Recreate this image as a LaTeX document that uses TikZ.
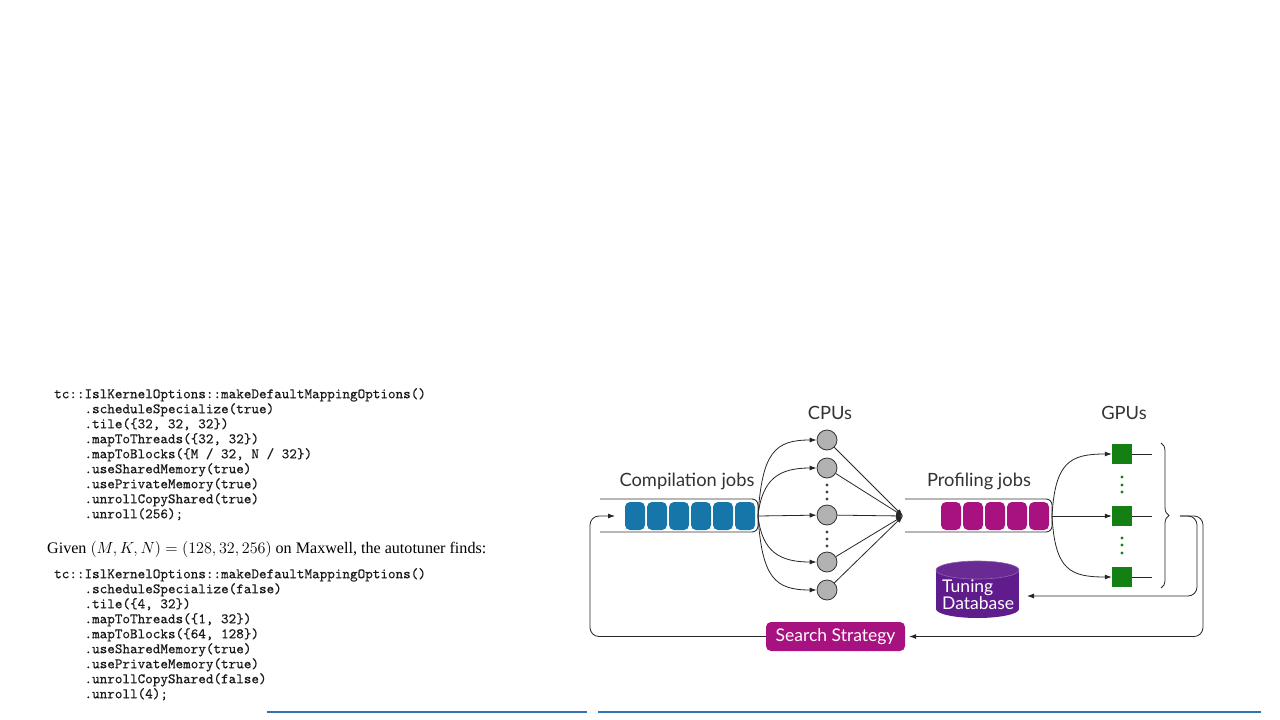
\RequirePackage{fix-cm}
\documentclass[tikz,border=0pt]{standalone}
\usepackage{fontspec}
\setmainfont{Liberation Serif}
\setmonofont{lmmono10-regular}[Extension=.otf, FakeBold=0.4]
\newfontfamily\dfont{Lato}
\usetikzlibrary{arrows.meta,decorations.pathreplacing}
\definecolor{jobblue}{RGB}{22,118,170}
\definecolor{jobpink}{RGB}{168,18,128}
\definecolor{dbpurple}{RGB}{96,28,140}
\definecolor{gpugreen}{RGB}{20,128,20}
\definecolor{cpugray}{RGB}{178,178,178}
\definecolor{rulecol}{RGB}{46,117,182}
\tikzstyle{pipe}=[draw=black!80, line width=0.9pt, rounded corners=6pt]
\tikzstyle{cjob}=[rectangle, rounded corners=5pt, fill=jobblue, minimum width=20pt, minimum height=28pt, inner sep=0pt]
\tikzstyle{pjob}=[rectangle, rounded corners=5pt, fill=jobpink, minimum width=20pt, minimum height=28pt, inner sep=0pt]
\tikzstyle{cpu}=[circle, draw=black!80, fill=cpugray, minimum size=20pt, inner sep=0pt, line width=0.8pt]
\tikzstyle{gpu}=[rectangle, fill=gpugreen, minimum size=20pt, inner sep=0pt]
\tikzstyle{lbl}=[inner sep=0pt, text=black!80, font=\dfont\fontsize{18.3}{20}\selectfont]
\tikzstyle{boxlbl}=[inner sep=0pt, text=white, font=\dfont\fontsize{17.5}{17}\selectfont]
\tikzstyle{edge}=[-{Latex[length=7pt,width=5pt]}, draw=black!85, line width=0.8pt]
\tikzstyle{line}=[draw=black!85, line width=0.8pt]
\tikzstyle{code}=[anchor=north west, inner sep=0pt, align=left, text=black!90, font=\ttfamily\fontsize{14.45}{15}\selectfont]

\begin{document}
\begin{tikzpicture}[x=1pt, y=-1pt]
				\useasboundingbox (0,0) rectangle (1280,720);
				
				%The code
				\draw (54,388) node[code] (opt1) {tc::IslKernelOptions::makeDefaultMappingOptions()\\
				~~~~.scheduleSpecialize(true)\\
				~~~~.tile(\{32, 32, 32\})\\
				~~~~.mapToThreads(\{32, 32\})\\
				~~~~.mapToBlocks(\{M / 32, N / 32\})\\
				~~~~.useSharedMemory(true)\\
				~~~~.usePrivateMemory(true)\\
				~~~~.unrollCopyShared(true)\\
				~~~~.unroll(256);};
				\draw (47,549) node[anchor=west, inner sep=0pt, font=\fontsize{16.1}{18}\selectfont] (given) {Given $(M,K,N)=(128,32,256)$ on Maxwell, the autotuner finds:};
				\draw (54,568) node[code] (opt2) {tc::IslKernelOptions::makeDefaultMappingOptions()\\
				~~~~.scheduleSpecialize(false)\\
				~~~~.tile(\{4, 32\})\\
				~~~~.mapToThreads(\{1, 32\})\\
				~~~~.mapToBlocks(\{64, 128\})\\
				~~~~.useSharedMemory(true)\\
				~~~~.usePrivateMemory(true)\\
				~~~~.unrollCopyShared(false)\\
				~~~~.unroll(4);};
				
				%The queues
				\draw[pipe] (600,499) -- (758,499) -- (758,532) -- (600,532);
				\foreach \i in {0,...,5}
					\draw (635+22*\i,516) node[cjob] (cj\i) {};
				\draw[pipe] (905,499) -- (1052,499) -- (1052,532) -- (905,532);
				\foreach \i in {0,...,4}
					\draw (951+22*\i,516) node[pjob] (pj\i) {};
				\coordinate (cq) at (758,516);
				\coordinate (pq) at (1052,516);
				\coordinate (cin) at (615,516);
				\coordinate (pin) at (903,516);
				
				%The labels
				\draw (830,413) node[lbl] (cpus) {CPUs};
				\draw (1124,413) node[lbl] (gpus) {GPUs};
				\draw (687,481) node[lbl] (cjobs) {Compilation jobs};
				\draw (979,481) node[lbl] (pjobs) {Profiling jobs};
				
				%The CPUs
				\draw (827,440) node[cpu] (c1) {};
				\draw (827,468) node[cpu] (c2) {};
				\draw (827,515) node[cpu] (c3) {};
				\draw (827,562) node[cpu] (c4) {};
				\draw (827,590) node[cpu] (c5) {};
				\foreach \y in {485,492,499,532,539,546}
					\fill[black!75] (827,\y) circle (1.7pt);
				
				%The GPUs
				\draw (1122,454) node[gpu] (g1) {};
				\draw (1122,516) node[gpu] (g2) {};
				\draw (1122,577) node[gpu] (g3) {};
				\foreach \y in {477,485,492,538,545,553}
					\fill[gpugreen] (1122,\y) circle (1.7pt);
				
				%The database
				\coordinate (db) at (977.5,590);
				\fill[dbpurple] (936,570) rectangle (1019,609);
				\fill[dbpurple] (977.5,609) ellipse (41.5 and 9);
				\filldraw[fill=dbpurple!94!white, draw=dbpurple!70!white, line width=0.6pt] (977.5,570) ellipse (41.5 and 9);
				\draw (942,595) node[boxlbl, anchor=west, align=left] (dbtext) {Tuning\\Database};
				
				%The strategy
				\draw (835.5,636.5) node[rectangle, rounded corners=5pt, fill=jobpink, minimum width=139pt, minimum height=29pt, boxlbl] (ss) {Search Strategy};
				
				%Compilation jobs to CPUs
				\draw[edge] (cq) .. controls (762,452) and (775,440) .. (c1);
				\draw[edge] (cq) .. controls (762,478) and (780,468) .. (c2);
				\draw[edge] (cq) -- (c3);
				\draw[edge] (cq) .. controls (762,552) and (780,562) .. (c4);
				\draw[edge] (cq) .. controls (762,578) and (775,590) .. (c5);
				
				%CPUs to profiling jobs
				\foreach \n in {c1,c2,c3,c4,c5}
					\draw[edge] (\n) -- (pin);
				
				%Profiling jobs to GPUs
				\draw[edge] (pq) .. controls (1055,462) and (1070,454) .. (g1);
				\draw[edge] (pq) -- (g2);
				\draw[edge] (pq) .. controls (1055,570) and (1070,577) .. (g3);
				\foreach \n in {g1,g2,g3}
					\draw[line] (\n.east) -- ++(20,0);
				\draw[line, decorate, decoration={brace, amplitude=8pt}] (1161,443) -- (1161,588);
				
				%The feedback
				\coordinate (bt) at (1180,516);
				\coordinate (dbin) at (1027,596);
				\draw[edge, rounded corners=9pt] (bt) -| (1197,596) -- (dbin);
				\draw[edge, rounded corners=9pt, shorten >=4pt] (bt) -| (1203,636.5) -- (ss.east);
				\draw[edge, rounded corners=9pt] (ss.west) -| (590,516) -- (cin);
				
				%The rules
				\draw[rulecol, line width=1.5pt] (267,712) -- (587,712);
				\draw[rulecol, line width=1.5pt] (598,712) -- (1261,712);
			\end{tikzpicture}
\end{document}
